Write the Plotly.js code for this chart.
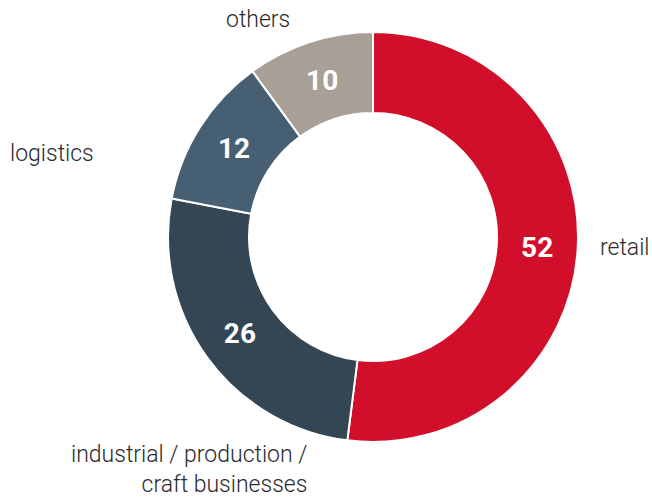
<!DOCTYPE html>
<html>
<head>
<meta charset="utf-8">
<script src="https://cdn.plot.ly/plotly-3.0.1.min.js"></script>
<style>html,body{margin:0;padding:0;background:#fff;}#chart{width:652px;height:497px;}</style>
</head>
<body>
<div id="chart"></div>
<script>
const categories = ["retail", "industrial / production /<br>craft businesses", "logistics", "others"];
const values = [52, 26, 12, 10];
const colors = ["#d20f2a", "#344654", "#465f72", "#a89f96"];

const trace = {
  type: "pie",
  labels: categories,
  values: values,
  hole: 0.605,
  sort: false,
  direction: "clockwise",
  rotation: 0,
  marker: {colors: colors, line: {color: "#ffffff", width: 2}},
  textinfo: "value",
  textposition: "inside",
  insidetextorientation: "horizontal",
  textfont: {family: "Roboto, sans-serif", size: 28, color: "#ffffff", weight: "bold"},
  hoverinfo: "none",
  showlegend: false,
  domain: {x: [0.2577, 0.8865], y: [0.1107, 0.9356]}
};

const lf = {family: "Roboto, sans-serif", size: 23, color: "#2a2a2a", weight: 300};
const layout = {
  width: 652, height: 497,
  margin: {l: 0, r: 0, t: 0, b: 0},
  paper_bgcolor: "#ffffff",
  showlegend: false,
  annotations: [
    {text: "retail", x: 598/652, y: 1 - 247/497, xref: "paper", yref: "paper", xanchor: "left", yanchor: "middle", showarrow: false, font: lf},
    {text: "others", x: 258/652, y: 1 - 19/497, xref: "paper", yref: "paper", xanchor: "center", yanchor: "middle", showarrow: false, font: lf},
    {text: "logistics", x: 8/652, y: 1 - 153/497, xref: "paper", yref: "paper", xanchor: "left", yanchor: "middle", showarrow: false, font: lf},
    {text: "industrial / production /<br>craft businesses", x: 309/652, y: 1 - 469/497, xref: "paper", yref: "paper", xanchor: "right", yanchor: "middle", align: "right", showarrow: false, font: lf}
  ]
};

Plotly.newPlot("chart", [trace], layout, {displayModeBar: false, staticPlot: true});
</script>
</body>
</html>
